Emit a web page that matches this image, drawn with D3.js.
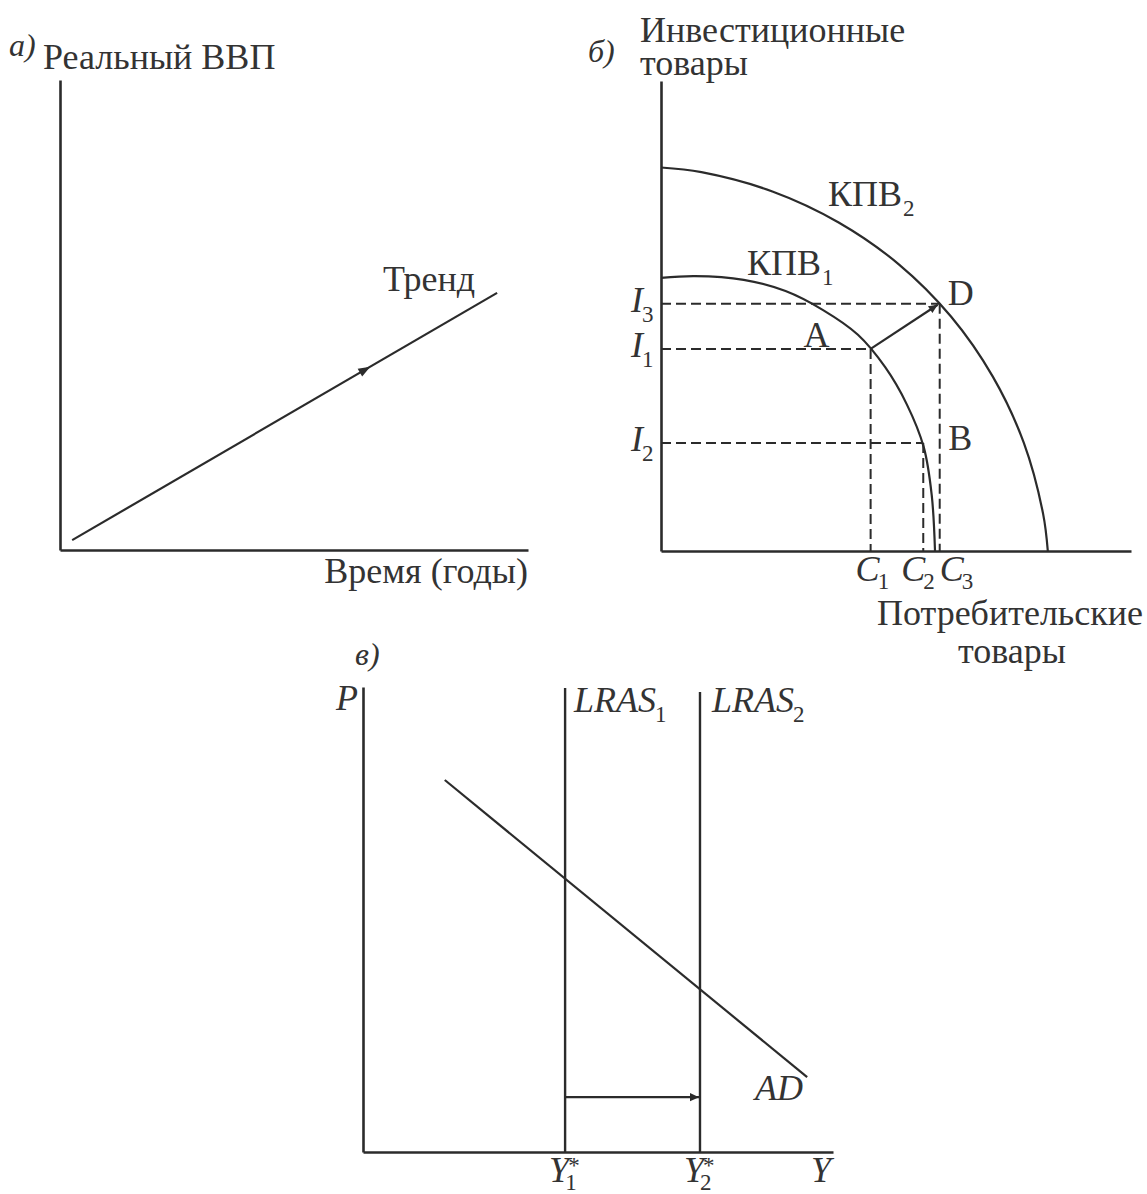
<!DOCTYPE html>
<html>
<head>
<meta charset="utf-8">
<script src="https://cdn.jsdelivr.net/npm/d3@7"></script>
<style>
  html, body { margin: 0; padding: 0; background: #fff; }
  svg text { font-family: "Liberation Serif", "Times New Roman", serif; fill: #333; }
</style>
</head>
<body>
<svg id="chart" width="1147" height="1194"></svg>
<script>
// ---------- Panel а: real GDP trend over time ----------
const trendStart = [2.6, 2.1];
const trendEnd = [93.4, 54.7];
const trendArrowAt = 66.3;            // x position of the direction arrow on the trend
const panelATitle = "Реальный ВВП";
const panelAXTitle = "Время (годы)";
const trendLabel = "Тренд";

// ---------- Panel б: production possibility frontiers ----------
const ppf1 = [[0, 58.1], [7.2, 58.5], [17.6, 57.7], [26.5, 55.3], [34.4, 51.3], [41.9, 46.0],
              [47.7, 39.1], [52.3, 31.2], [55.9, 22.1], [57.6, 11.9], [58.3, 0]];
const ppf2 = [[0, 81.6], [8.6, 80.6], [23.7, 76.5], [37.8, 69.9], [50.6, 61.0], [61.7, 49.9],
              [70.6, 37.1], [77.2, 23.0], [81.3, 7.9], [82.3, 0]];
const ppfNames = ["КПВ", "КПВ"];
const ppfSubs = ["1", "2"];
const pointNames = ["A", "B", "D"];
const pointC = [44.6, 55.8, 59.3];    // consumption goods: C1, C2, C3
const pointI = [43.0, 23.0, 52.6];    // investment goods: I1, I2, I3
const levelSubs = ["1", "2", "3"];
const panelBYTitle = ["Инвестиционные", "товары"];
const panelBXTitle = ["Потребительские", "товары"];

// ---------- Panel в: long-run aggregate supply shift ----------
const lrasY = [43.0, 71.7];
const lrasTop = [99.8, 98.9];
const lrasSubs = ["1", "2"];
const adStart = [17.4, 80.0];
const adEnd = [94.5, 16.1];
const shiftLevel = 11.8;

const panelTags = ["а)", "б)", "в)"];

const INK = "#2b2b2b";
const FS = 36, SUB_FS = 23;
const svg = d3.select("#chart");

// arrowhead marker
svg.append("defs").append("marker")
  .attr("id", "head")
  .attr("viewBox", "0 0 10 10")
  .attr("refX", 10).attr("refY", 5)
  .attr("markerUnits", "userSpaceOnUse")
  .attr("markerWidth", 13).attr("markerHeight", 9)
  .attr("orient", "auto")
  .append("path").attr("d", "M0,0.5 L10,5 L0,9.5 Z").attr("fill", INK);

// one text element: main part, optional upright subscript and a superscript stacked above it
function label(g, x, y, main, opt = {}) {
  const t = g.append("text")
    .attr("x", x).attr("y", y)
    .attr("font-size", FS)
    .attr("text-anchor", opt.anchor || null);
  t.append("tspan")
    .attr("font-style", opt.italic ? "italic" : null)
    .attr("font-size", opt.size || null)
    .text(main);
  const subDy = opt.subDy || 10;
  if (opt.sub) {
    t.append("tspan").attr("font-size", SUB_FS)
      .attr("dx", opt.subDx || 0).attr("dy", subDy).text(opt.sub);
  }
  if (opt.sup) {
    t.append("tspan").attr("font-size", SUB_FS)
      .attr("dx", -11.5 + (opt.supDx || 0)).attr("dy", -subDy - 9.5).text(opt.sup);
  }
  return t;
}

function drawAxes(g, x, y) {
  g.append("g").attr("transform", `translate(0,${y.range()[0]})`)
    .call(d3.axisBottom(x).tickValues([]).tickSizeOuter(0))
    .select(".domain").attr("stroke", INK).attr("stroke-width", 2.6);
  g.append("g").attr("transform", `translate(${x.range()[0]},0)`)
    .call(d3.axisLeft(y).tickValues([]).tickSizeOuter(0))
    .select(".domain").attr("stroke", INK).attr("stroke-width", 2.6);
}

// ================= Panel а =================
{
  const g = svg.append("g");
  const x = d3.scaleLinear().domain([0, 100]).range([60, 528]);
  const y = d3.scaleLinear().domain([0, 100]).range([550, 80]);
  drawAxes(g, x, y);

  g.append("line")
    .attr("x1", x(trendStart[0])).attr("y1", y(trendStart[1]))
    .attr("x2", x(trendEnd[0])).attr("y2", y(trendEnd[1]))
    .attr("stroke", INK).attr("stroke-width", 2.2);

  // direction arrow on the trend line
  const t = (trendArrowAt - trendStart[0]) / (trendEnd[0] - trendStart[0]);
  const ax = x(trendStart[0]) + t * (x(trendEnd[0]) - x(trendStart[0]));
  const ay = y(trendStart[1]) + t * (y(trendEnd[1]) - y(trendStart[1]));
  const ang = Math.atan2(y(trendEnd[1]) - y(trendStart[1]), x(trendEnd[0]) - x(trendStart[0])) * 180 / Math.PI;
  g.append("path").attr("d", "M0,0 L-12,-4.5 L-12,4.5 Z")
    .attr("transform", `translate(${ax},${ay}) rotate(${ang})`).attr("fill", INK);

  label(g, 9, 56, panelTags[0], { italic: true, size: 32 });
  label(g, 43, 69, panelATitle);
  label(g, 383, 291, trendLabel);
  label(g, 528, 583, panelAXTitle, { anchor: "end" });
}

// ================= Panel б =================
{
  const g = svg.append("g");
  const x = d3.scaleLinear().domain([0, 100]).range([661, 1131]);
  const y = d3.scaleLinear().domain([0, 100]).range([551, 81]);
  drawAxes(g, x, y);

  const line = d3.line().x(d => x(d[0])).y(d => y(d[1])).curve(d3.curveCatmullRom.alpha(0.5));
  [ppf1, ppf2].forEach(pts => {
    g.append("path").attr("d", line(pts)).attr("fill", "none")
      .attr("stroke", INK).attr("stroke-width", 2.2);
  });

  // dashed guides from each point to both axes
  const dashed = sel => sel.attr("stroke", INK).attr("stroke-width", 2).attr("stroke-dasharray", "10,5");
  pointC.forEach((c, i) => {
    g.append("line").attr("x1", x(0)).attr("y1", y(pointI[i]))
      .attr("x2", x(c)).attr("y2", y(pointI[i])).call(dashed);
    g.append("line").attr("x1", x(c)).attr("y1", y(pointI[i]))
      .attr("x2", x(c)).attr("y2", y(0)).call(dashed);
  });

  // shift from A to D
  g.append("line")
    .attr("x1", x(pointC[0])).attr("y1", y(pointI[0]))
    .attr("x2", x(pointC[2]) - 2).attr("y2", y(pointI[2]) + 1)
    .attr("stroke", INK).attr("stroke-width", 2.2).attr("marker-end", "url(#head)");

  // labels
  label(g, 588, 62, panelTags[1], { italic: true, size: 32 });
  label(g, 640, 42, panelBYTitle[0]);
  label(g, 640, 75, panelBYTitle[1]);
  label(g, 1143, 625, panelBXTitle[0], { anchor: "end" });
  label(g, 958, 663, panelBXTitle[1]);

  label(g, 747, 275, ppfNames[0], { sub: ppfSubs[0], subDx: 1 });
  label(g, 828, 206, ppfNames[1], { sub: ppfSubs[1], subDx: 1 });

  const ptOffsets = [[-67, -2], [25, 7], [8, 1]];
  pointNames.forEach((n, i) => {
    label(g, x(pointC[i]) + ptOffsets[i][0], y(pointI[i]) + ptOffsets[i][1], n);
  });
  pointI.forEach((v, i) => {
    label(g, 631, y(v) + 8, "I", { italic: true, sub: levelSubs[i], subDx: -1 });
  });
  const cOffsets = [-15, -22, 0];
  pointC.forEach((v, i) => {
    label(g, x(v) + cOffsets[i], 581, "C", { italic: true, sub: levelSubs[i], subDx: -2, subDy: 8 });
  });
}

// ================= Panel в =================
{
  const g = svg.append("g");
  const x = d3.scaleLinear().domain([0, 100]).range([363, 833]);
  const y = d3.scaleLinear().domain([0, 100]).range([1152, 687]);
  drawAxes(g, x, y);

  lrasY.forEach((v, i) => {
    g.append("line").attr("x1", x(v)).attr("y1", y(lrasTop[i]))
      .attr("x2", x(v)).attr("y2", y(0))
      .attr("stroke", INK).attr("stroke-width", 2.4);
  });
  g.append("line")
    .attr("x1", x(adStart[0])).attr("y1", y(adStart[1]))
    .attr("x2", x(adEnd[0])).attr("y2", y(adEnd[1]))
    .attr("stroke", INK).attr("stroke-width", 2.2);

  g.append("line")
    .attr("x1", x(lrasY[0])).attr("y1", y(shiftLevel))
    .attr("x2", x(lrasY[1]) - 1).attr("y2", y(shiftLevel))
    .attr("stroke", INK).attr("stroke-width", 2.2).attr("marker-end", "url(#head)");

  label(g, 355, 665, panelTags[2], { italic: true, size: 32 });
  label(g, 336, 710, "P", { italic: true });
  lrasY.forEach((v, i) => {
    label(g, x(v) + 9 + i * 3, 712, "LRAS", { italic: true, sub: lrasSubs[i], subDx: -1 });
    label(g, x(v) - 16, 1182, "Y", { italic: true, sub: lrasSubs[i], subDx: -4, subDy: 8, sup: "*", supDx: 3 });
  });
  label(g, 755, 1100, "AD", { italic: true });
  label(g, 811, 1182, "Y", { italic: true });
}
</script>
</body>
</html>
